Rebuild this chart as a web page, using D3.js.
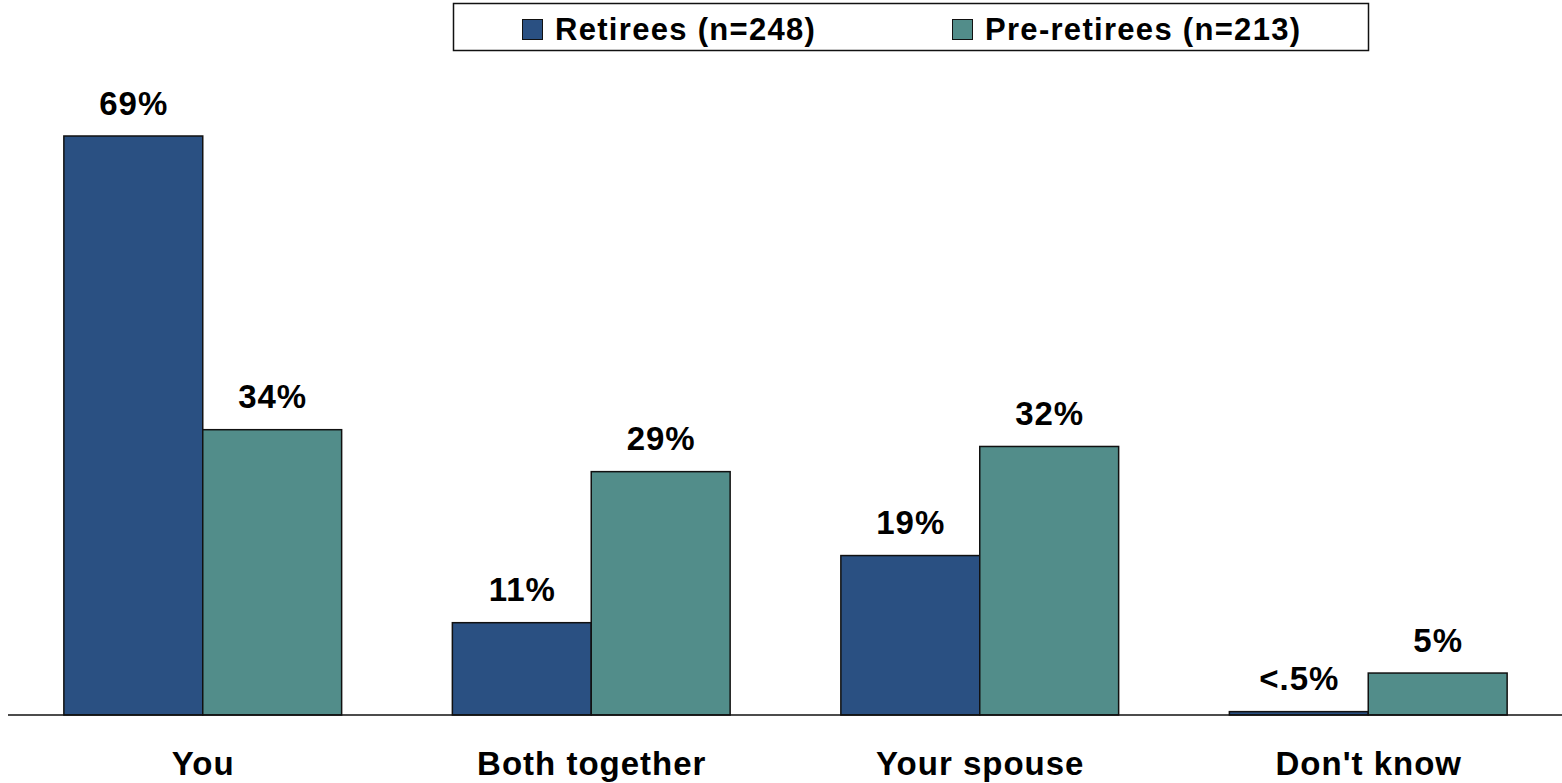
<!DOCTYPE html>
<html><head><meta charset="utf-8">
<script src="https://cdn.jsdelivr.net/npm/d3@7"></script>
<style>body{margin:0;background:#fff}svg{display:block}</style>
</head><body>
<svg id="c" width="1562" height="783"></svg>
<script>
const categories = ["You", "Both together", "Your spouse", "Don't know"];
const seriesNames = ["Retirees (n=248)", "Pre-retirees (n=213)"];
const retirees = [69, 11, 19, 0.4];
const preRetirees = [34, 29, 32, 5];
const retireeLabels = ["69%", "11%", "19%", "<.5%"];
const preRetireeLabels = ["34%", "29%", "32%", "5%"];
const colors = ["#2a5082", "#528d8a"];

const svg = d3.select("#c");
const font = "'Liberation Sans', Arial, sans-serif";
const baseY = 715;
const x0 = d3.scaleBand().domain(categories).range([8.5, 1562.5]).paddingInner(0.285).paddingOuter(0.1425);
const x1 = d3.scaleBand().domain([0, 1]).range([0, x0.bandwidth()]);
const y = d3.scaleLinear().domain([0, 69]).range([baseY, 136]);

const series = [retirees, preRetirees];
const labels = [retireeLabels, preRetireeLabels];

categories.forEach((c, i) => {
  const g = svg.append("g").attr("transform", `translate(${x0(c)},0)`);
  [0, 1].forEach(s => {
    const v = series[s][i];
    g.append("rect").attr("x", x1(s)).attr("y", y(v)).attr("width", x1.bandwidth())
      .attr("height", baseY - y(v)).attr("fill", colors[s]).attr("stroke", "#111").attr("stroke-width", 1.5);
    g.append("text").attr("x", x1(s) + x1.bandwidth() / 2 + 0.5).attr("y", y(v) - 21.5)
      .attr("text-anchor", "middle").attr("font-family", font).attr("font-weight", "bold")
      .attr("font-size", 33).attr("letter-spacing", 1).text(labels[s][i]);
  });
});

svg.append("line").attr("x1", 8).attr("x2", 1562).attr("y1", baseY).attr("y2", baseY)
  .attr("stroke", "#111").attr("stroke-width", 1.5);

const xAxis = svg.append("g").attr("transform", `translate(0,${baseY})`)
  .call(d3.axisBottom(x0).tickSize(0).tickPadding(0));
xAxis.select(".domain").remove();
xAxis.selectAll("text").attr("y", 60).attr("dy", null).attr("x", 0.5).attr("font-family", font).attr("font-weight", "bold")
  .attr("font-size", 33).attr("letter-spacing", 1).attr("fill", "#000");

// legend
const lg = svg.append("g");
lg.append("rect").attr("x", 453.5).attr("y", 3.5).attr("width", 915).attr("height", 47)
  .attr("fill", "#fff").attr("stroke", "#111").attr("stroke-width", 1.5);
const legX = [522, 952];
const legTextX = [555, 985];
seriesNames.forEach((n, s) => {
  lg.append("rect").attr("x", legX[s] + 0.5).attr("y", 19.5).attr("width", 20).attr("height", 20)
    .attr("fill", colors[s]).attr("stroke", "#111").attr("stroke-width", 1);
  lg.append("text").attr("x", legTextX[s]).attr("y", 40).attr("font-family", font)
    .attr("font-weight", "bold").attr("font-size", 31).attr("letter-spacing", 1.3).text(n);
});
</script>
</body></html>
